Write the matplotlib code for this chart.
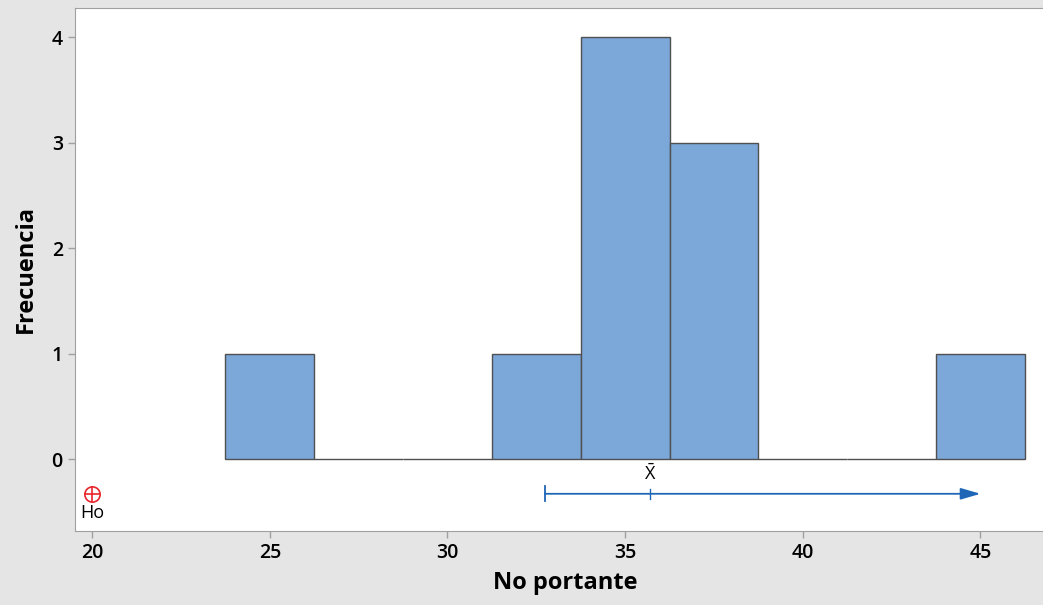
import matplotlib
matplotlib.use('Agg')
import matplotlib.pyplot as plt

# histogram of "No portante" (bin width 2.5)
bin_centers = [25, 27.5, 30, 32.5, 35, 37.5, 40, 42.5, 45]
counts = [1, 0, 0, 1, 4, 3, 0, 0, 1]
bin_width = 2.5

# one-sample test annotation
h0 = 20
ci_low = 32.75
mean = 35.7
ci_arrow_end = 45

plt.rcParams['font.family'] = ['Open Sans', 'DejaVu Sans']
plt.rcParams['mathtext.fontset'] = 'custom'
plt.rcParams['mathtext.rm'] = 'Open Sans'

fig = plt.figure(figsize=(10.43, 6.05), dpi=100, facecolor='#e5e5e5')
ax = fig.add_axes([0.0716, 0.1223, 0.94, 0.8645])
ax.set_facecolor('white')

ax.bar(bin_centers, counts, width=bin_width, color='#7ba7d9',
       edgecolor='#505050', linewidth=1.0, zorder=2)

yci = -0.33
ax.plot(h0, yci, marker='o', ms=11, mfc='none', mec='#e8262b', mew=1.2, zorder=3)
ax.plot(h0, yci, marker='+', ms=11, mec='#e8262b', mew=1.2, zorder=3)
ax.text(h0, yci - 0.1, 'Ho', ha='center', va='top', fontsize=13)

blue = '#2066b6'
ax.annotate('', xy=(ci_arrow_end, yci), xytext=(ci_low, yci),
            arrowprops=dict(arrowstyle='-|>,head_length=1.2,head_width=0.35',
                            color=blue, lw=1.3, shrinkA=0, shrinkB=0))
ax.plot([ci_low, ci_low], [yci - 0.07, yci + 0.07], color=blue, lw=1.3)
ax.plot([mean, mean], [yci - 0.05, yci + 0.05], color=blue, lw=1.0)
ax.text(mean, yci + 0.09, r'$\bar{\mathrm{X}}$', ha='center', va='bottom', fontsize=13)

ax.set_xlim(19.51, 47.1)
ax.set_ylim(-0.683, 4.278)
ax.set_xticks([20, 25, 30, 35, 40, 45])
ax.set_yticks([0, 1, 2, 3, 4])
ax.tick_params(axis='both', colors='#a0a0a0', labelcolor='black', labelsize=14,
               length=5, width=1, direction='out')
for lab in ax.get_xticklabels() + ax.get_yticklabels():
    lab.set_fontweight('semibold')
for s in ax.spines.values():
    s.set_color('#a0a0a0')
ax.set_xlabel('No portante', fontsize=17, fontweight='bold', labelpad=6)
ax.set_ylabel('Frecuencia', fontsize=17, fontweight='bold', labelpad=10)

fig.savefig('out.png', dpi=100, facecolor=fig.get_facecolor())
